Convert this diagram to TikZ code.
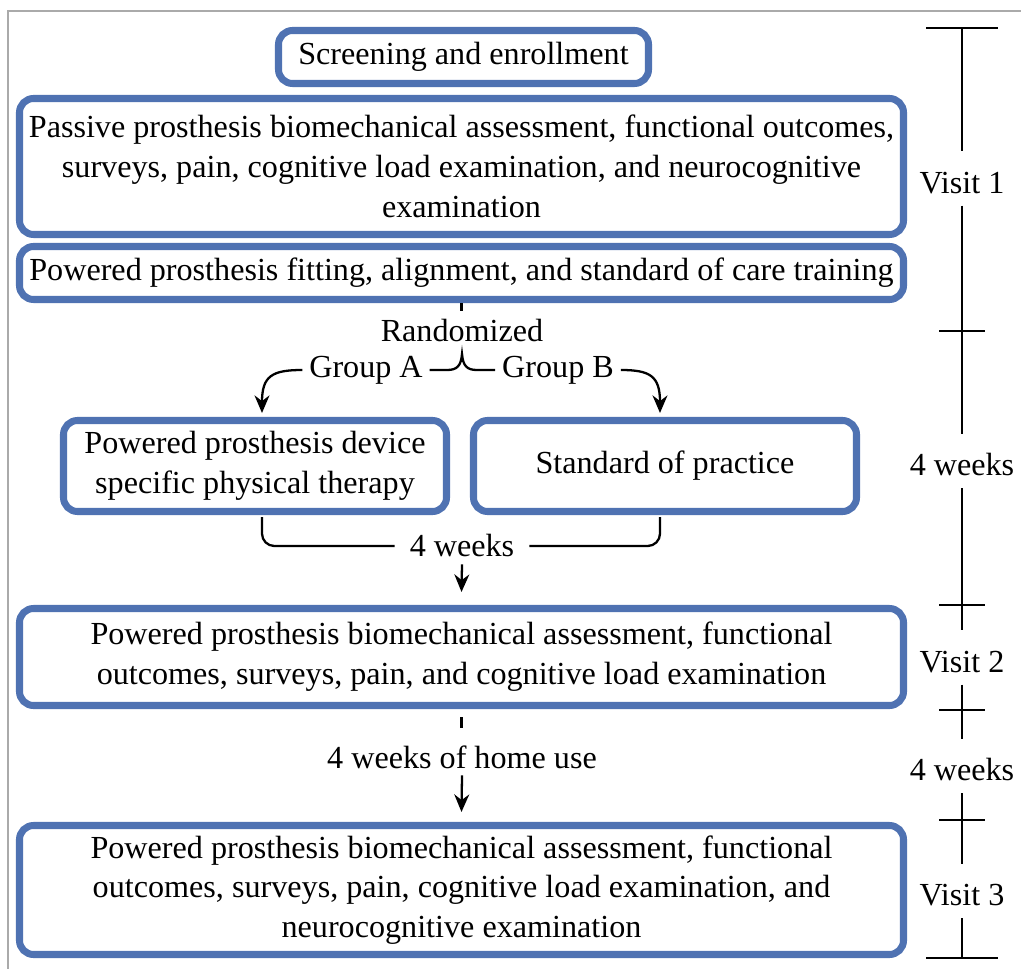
\documentclass[tikz,border=0pt]{standalone}
\usepackage{fontspec}
\setmainfont{Liberation Serif}
\usetikzlibrary{arrows.meta}

\newlength\unitL
\setlength\unitL{0.02cm}

\definecolor{boxblue}{RGB}{79,114,178}
\definecolor{framegray}{RGB}{170,170,170}

\begin{document}
\begin{tikzpicture}[x=\unitL, y=-\unitL, line width=1.3pt,
  font=\fontsize{18.3}{22.6}\selectfont,
  flow/.style={-{Stealth[length=10pt,width=8.5pt]}},
  stage/.style={draw=boxblue, line width=4pt, rounded corners=8pt, align=center, inner sep=0pt},
  tlabel/.style={minimum height=52\unitL, inner sep=0pt, text height=17pt, text depth=0pt}]

  \useasboundingbox (0,0) rectangle (1021,969);

  % === Page frame ===
  \draw[line width=0.6pt, framegray] (8,969) -- (8,11) -- (1021,11);

  % === Visit 1 boxes ===
  \node[stage, minimum width=370\unitL, minimum height=53\unitL] (screen) at (463.5,57) {Screening and enrollment};
  \node[stage, minimum width=884\unitL, minimum height=136\unitL] (passive) at (461.5,166.5)
    {Passive prosthesis biomechanical assessment, functional outcomes,\\
     surveys, pain, cognitive load examination, and neurocognitive\\
     examination};
  \node[stage, minimum width=884\unitL, minimum height=53\unitL] (fitting) at (461.5,273)
    {Powered prosthesis fitting, alignment, and standard of care training};

  % === Randomization ===
  \draw (fitting.south) -- ++(0,8);
  \node (rand) at (462,331) {Randomized};
  \node (grpA) at (366,370) {Group A};
  \node (grpB) at (558,370) {Group B};
  \coordinate (tip) at (462,354);
  \draw (grpA.east) -- (447,370) .. controls (457,370) and (461,366) .. (tip)
        .. controls (463,366) and (467,370) .. (477,370) -- (grpB.west);

  % === Two arms ===
  \node[stage, minimum width=383\unitL, minimum height=91\unitL] (therapy) at (255,466)
    {Powered prosthesis device\\specific physical therapy};
  \node[stage, minimum width=383\unitL, minimum height=91\unitL] (practice) at (665,466)
    {Standard of practice};
  \draw[flow] (grpA.west) .. controls (272,370) and (262,376) .. ([xshift=7\unitL,yshift=4\unitL]therapy.north);
  \draw[flow] (grpB.east) .. controls (650,370) and (660,376) .. ([xshift=-5\unitL,yshift=4\unitL]practice.north);

  % === 4 weeks brace ===
  \node[inner xsep=8pt] (wkmid) at (462,546) {4 weeks};
  \draw[rounded corners=7pt] ([xshift=7\unitL,yshift=-2\unitL]therapy.south) |- (wkmid.west);
  \draw[rounded corners=7pt] (wkmid.east) -| ([xshift=-5\unitL,yshift=-2\unitL]practice.south);

  % === Visit 2 ===
  \node[stage, minimum width=884\unitL, minimum height=97\unitL] (visittwo) at (461.5,657)
    {Powered prosthesis biomechanical assessment, functional\\
     outcomes, surveys, pain, and cognitive load examination};
  \draw[flow] (wkmid.south) -- ([yshift=13\unitL]visittwo.north);

  % === Home use ===
  \draw ([yshift=-8\unitL]visittwo.south) -- ++(0,11);
  \node (home) at (462,757) {4 weeks of home use};

  % === Visit 3 ===
  \node[stage, minimum width=884\unitL, minimum height=129\unitL] (visitthree) at (461.5,890)
    {Powered prosthesis biomechanical assessment, functional\\
     outcomes, surveys, pain, cognitive load examination, and\\
     neurocognitive examination};
  \draw[flow] (home.south) -- ([yshift=10\unitL]visitthree.north);

  % === Timeline on the right ===
  \coordinate (t0) at (962,28);
  \coordinate (t5) at (962,958);
  \node[tlabel] (v1) at (962,178.5) {Visit 1};
  \node[tlabel] (wkA) at (962,461) {4 weeks};
  \node[tlabel] (v2) at (962,657.5) {Visit 2};
  \node[tlabel] (wkB) at (962,766) {4 weeks};
  \node[tlabel] (v3) at (962,891) {Visit 3};
  \draw (t0) -- (v1) -- (wkA) -- (v2) -- (wkB) -- (v3) -- (t5);

  \draw ([xshift=-36\unitL]t0) -- ([xshift=36\unitL]t0);
  \draw ([xshift=-36\unitL]t5) -- ([xshift=36\unitL]t5);
  \foreach \y in {331,605,710,820}
    \draw (939,\y) -- (985,\y);

\end{tikzpicture}
\end{document}
